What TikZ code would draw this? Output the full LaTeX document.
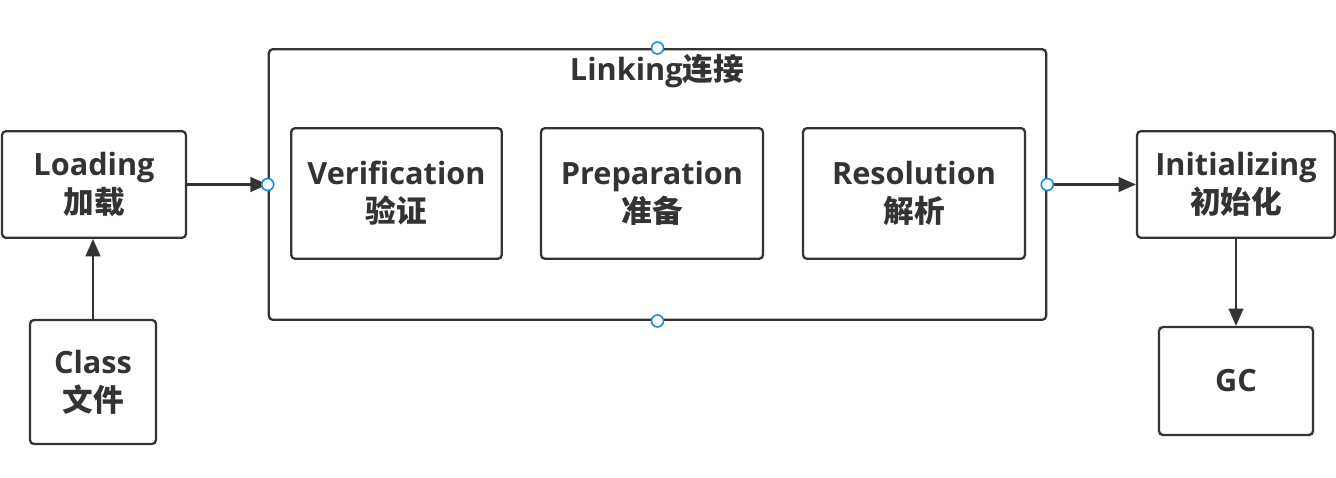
\documentclass[tikz,border=0pt]{standalone}
\usepackage{fontspec}
\setmainfont{Open Sans}
\newfontfamily\cjk{Noto Sans CJK SC}
\usetikzlibrary{arrows.meta, positioning}
\definecolor{ink}{HTML}{333333}
\definecolor{portblue}{HTML}{1E88E5}

\begin{document}
\begin{tikzpicture}[x=0.75pt, y=-0.75pt,
    stage/.style={rectangle, rounded corners=3pt, draw=ink, line width=1.7pt,
                  text=ink, align=center, inner sep=0pt,
                  font=\fontsize{23}{28.5}\selectfont\bfseries},
    phase/.style={stage, minimum height=98pt},
    frame/.style={rectangle, rounded corners=3pt, draw=ink, line width=1.7pt,
                  minimum width=583pt, minimum height=203pt},
    title/.style={text=ink, inner sep=0pt, font=\fontsize{23}{28.5}\selectfont\bfseries},
    port/.style={circle, draw=portblue, fill=white, line width=1.2pt,
                 minimum size=9pt, inner sep=0pt},
    arrow/.style={-{Triangle[length=13pt, width=11pt]}, draw=ink, fill=ink, line width=1.7pt}]

    \useasboundingbox (0,0) rectangle (1336,478);

    % Loading and class file (left)
    \node[stage, minimum width=138pt, minimum height=80pt] (loading) at (94,184.5) {Loading\\{\cjk 加载}};
    \node[stage, minimum width=94.5pt, minimum height=93pt] (class) at (93,382) {Class\\{\cjk 文件}};

    % Linking frame (middle)
    \node[frame] (linking) at (657.5,184.5) {};
    \node[title] (linkingtitle) at (657,71) {Linking{\cjk 连接}};
    \node[phase, minimum width=158pt] (verification) at (396.5,193.5) {Verification\\{\cjk 验证}};
    \node[phase, minimum width=166.5pt] (preparation) at (652,193.5) {Preparation\\{\cjk 准备}};
    \node[phase, minimum width=166.5pt] (resolution) at (914,193.5) {Resolution\\{\cjk 解析}};

    % Initializing and GC (right)
    \node[stage, minimum width=148.5pt, minimum height=80pt] (initializing) at (1236,184.5) {Initializing\\{\cjk 初始化}};
    \node[stage, minimum width=115.5pt, minimum height=81pt] (gc) at (1236,381) {GC};

    % Connections
    \draw[arrow] (loading) -- (linking.west);
    \draw[arrow] (class.north) -- (class.north |- loading.south);
    \draw[arrow] (linking.east) -- (initializing);
    \draw[arrow] (initializing) -- (gc);

    % connection points on the frame
    \foreach \side in {north, south, east, west}
        \node[port] (port-\side) at (linking.\side) {};

\end{tikzpicture}
\end{document}
